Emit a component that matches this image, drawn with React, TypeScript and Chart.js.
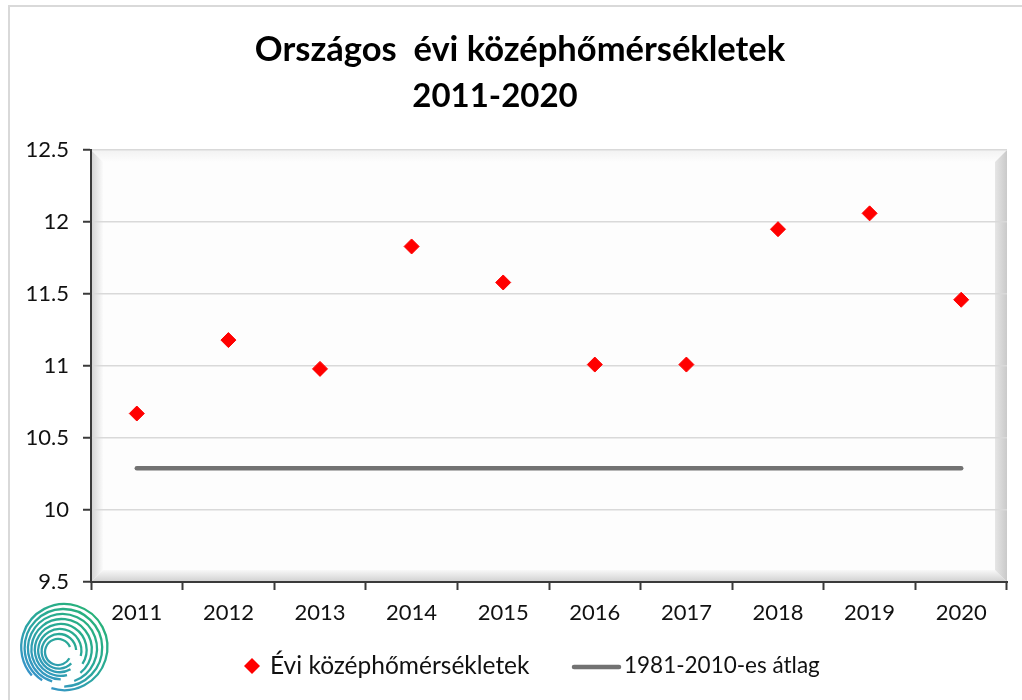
import React, { useEffect, useRef } from 'react';
import { Chart, registerables } from 'chart.js';

Chart.register(...registerables);

// ---- data ----
const years = ['2011', '2012', '2013', '2014', '2015', '2016', '2017', '2018', '2019', '2020'];
const annualMeans = [10.67, 11.18, 10.98, 11.83, 11.58, 11.01, 11.01, 11.95, 12.06, 11.46];
const baselineMeans = [10.29, 10.29, 10.29, 10.29, 10.29, 10.29, 10.29, 10.29, 10.29, 10.29];
const yTickValues = [9.5, 10, 10.5, 11, 11.5, 12, 12.5];
const titleLines = ['Országos  évi középhőmérsékletek', '2011-2020'];
const seriesLabels = ['Évi középhőmérsékletek', '1981-2010-es átlag'];

const FONT = 'Lato, "Open Sans", sans-serif';
const POINT_COLOR = '#ff0000';
const LINE_COLOR = '#727272';
const AXIS_COLOR = '#3a3a3a';
const TEXT_COLOR = '#111111';

function drawLogo(ctx: CanvasRenderingContext2D) {
  const grad = ctx.createLinearGradient(105, 600, 25, 690);
  grad.addColorStop(0, '#27b56c');
  grad.addColorStop(0.5, '#2aa89a');
  grad.addColorStop(1, '#3b8ed8');
  ctx.save();
  ctx.strokeStyle = grad;
  ctx.lineWidth = 2.3;
  ctx.lineCap = 'butt';
  for (let i = 0; i < 8; i++) {
    const r = 13 + i * 4.3;
    const cx = 58 + i * 0.9;
    const cy = 652 - i * 0.7;
    const gapCenter = 0.05 + i * 0.3;
    const gap = 0.9 - i * 0.05;
    ctx.beginPath();
    ctx.arc(cx, cy, r, gapCenter - gap / 2, gapCenter + gap / 2, true);
    ctx.stroke();
  }
  ctx.restore();
}

const decorPlugin = {
  id: 'decor',
  beforeDraw(chart: any) {
    const ctx: CanvasRenderingContext2D = chart.ctx;
    const { left: L, right: R, top: T, bottom: B } = chart.chartArea;
    const w = 12;
    ctx.save();
    // outer frame
    ctx.fillStyle = '#ffffff';
    ctx.fillRect(0, 0, chart.width, chart.height);
    ctx.strokeStyle = '#d9d9d9';
    ctx.lineWidth = 2;
    ctx.strokeRect(9, 6, 1200, 900);

    // plot wall
    ctx.fillStyle = '#fdfdfd';
    ctx.fillRect(L, T, R - L, B - T);
    // top bevel
    let g = ctx.createLinearGradient(0, T, 0, T + w);
    g.addColorStop(0, '#f2f2f2');
    g.addColorStop(1, '#fdfdfd');
    ctx.fillStyle = g;
    ctx.beginPath();
    ctx.moveTo(L, T); ctx.lineTo(R, T); ctx.lineTo(R - w, T + w); ctx.lineTo(L + w, T + w); ctx.closePath();
    ctx.fill();
    // left bevel
    g = ctx.createLinearGradient(L, 0, L + w, 0);
    g.addColorStop(0, '#d2d2d2');
    g.addColorStop(1, '#fbfbfb');
    ctx.fillStyle = g;
    ctx.beginPath();
    ctx.moveTo(L, T); ctx.lineTo(L + w, T + w); ctx.lineTo(L + w, B - w); ctx.lineTo(L, B); ctx.closePath();
    ctx.fill();
    // bottom bevel
    g = ctx.createLinearGradient(0, B - w, 0, B);
    g.addColorStop(0, '#f8f8f8');
    g.addColorStop(1, '#d0d0d0');
    ctx.fillStyle = g;
    ctx.beginPath();
    ctx.moveTo(L, B); ctx.lineTo(L + w, B - w); ctx.lineTo(R - w, B - w); ctx.lineTo(R, B); ctx.closePath();
    ctx.fill();
    // right bevel
    g = ctx.createLinearGradient(R - w, 0, R, 0);
    g.addColorStop(0, '#e6e6e6');
    g.addColorStop(1, '#c9c9c9');
    ctx.fillStyle = g;
    ctx.beginPath();
    ctx.moveTo(R, T); ctx.lineTo(R - w, T + w); ctx.lineTo(R - w, B - w); ctx.lineTo(R, B); ctx.closePath();
    ctx.fill();
    ctx.restore();
  },
  afterDraw(chart: any) {
    const ctx: CanvasRenderingContext2D = chart.ctx;
    ctx.save();
    // title
    ctx.fillStyle = '#000000';
    ctx.textAlign = 'center';
    ctx.textBaseline = 'alphabetic';
    ctx.font = `bold 34.5px ${FONT}`;
    ctx.fillText(titleLines[0], 520, 61);
    ctx.font = `bold 33px ${FONT}`;
    ctx.fillText(titleLines[1], 495, 107);

    // legend
    const ly = 666;
    const ds0 = chart.data.datasets[0];
    const ds1 = chart.data.datasets[1];
    ctx.fillStyle = ds0.pointBackgroundColor;
    ctx.beginPath();
    ctx.moveTo(252, ly - 8); ctx.lineTo(260, ly); ctx.lineTo(252, ly + 8); ctx.lineTo(244, ly); ctx.closePath();
    ctx.fill();
    ctx.fillStyle = TEXT_COLOR;
    ctx.font = `24.5px ${FONT}`;
    ctx.textAlign = 'left';
    ctx.textBaseline = 'middle';
    ctx.fillText(ds0.label, 270, ly);
    ctx.strokeStyle = ds1.borderColor;
    ctx.lineWidth = ds1.borderWidth;
    ctx.lineCap = 'round';
    ctx.beginPath();
    ctx.moveTo(574, ly + 1); ctx.lineTo(619, ly + 1);
    ctx.stroke();
    ctx.font = `22.5px ${FONT}`;
    ctx.fillText(ds1.label, 624, ly);

    drawLogo(ctx);
    ctx.restore();
  },
};

export default function App() {
  const canvasRef = useRef<HTMLCanvasElement | null>(null);

  useEffect(() => {
    if (!canvasRef.current) return;
    const chart = new Chart(canvasRef.current, {
      type: 'line',
      data: {
        labels: years,
        datasets: [
          {
            label: seriesLabels[0],
            data: annualMeans,
            showLine: false,
            pointStyle: 'rectRot',
            pointRadius: 7.5,
            pointBorderWidth: 1,
            pointBackgroundColor: POINT_COLOR,
            pointBorderColor: POINT_COLOR,
            borderColor: POINT_COLOR,
            backgroundColor: POINT_COLOR,
          },
          {
            label: seriesLabels[1],
            data: baselineMeans,
            borderColor: LINE_COLOR,
            backgroundColor: LINE_COLOR,
            borderWidth: 4.5,
            borderCapStyle: 'round',
            pointRadius: 0,
            fill: false,
          },
        ],
      },
      options: {
        responsive: false,
        animation: false,
        devicePixelRatio: 1,
        layout: { padding: { top: 150, right: 15, bottom: 0, left: 0 } },
        plugins: {
          legend: { display: false },
          title: { display: false },
          tooltip: { enabled: false },
        },
        scales: {
          x: {
            offset: true,
            grid: {
              offset: true,
              drawOnChartArea: false,
              drawTicks: true,
              tickLength: 8,
              tickColor: AXIS_COLOR,
              tickWidth: 2,
            },
            border: { color: AXIS_COLOR, width: 2 },
            ticks: {
              font: { family: FONT, size: 22 },
              color: TEXT_COLOR,
              padding: 10,
              maxRotation: 0,
              autoSkip: false,
            },
            afterFit: (s: any) => { s.height = 118; },
          },
          y: {
            min: 9.5,
            max: 12.5,
            afterBuildTicks: (s: any) => { s.ticks = yTickValues.map((v) => ({ value: v })); },
            grid: {
              color: '#d9d9d9',
              lineWidth: 1.5,
              drawTicks: true,
              tickLength: 8,
              tickColor: AXIS_COLOR,
              tickWidth: 2,
            },
            border: { color: AXIS_COLOR, width: 2 },
            ticks: {
              font: { family: FONT, size: 22 },
              color: TEXT_COLOR,
              padding: 14,
              callback: (v: any) => String(v),
            },
            afterFit: (s: any) => { s.width = 91; },
          },
        },
      },
      plugins: [decorPlugin],
    } as any);
    return () => chart.destroy();
  }, []);

  return (
    <div style={{ position: 'absolute', left: 0, top: 0, width: 1022, height: 700, background: '#fff' }}>
      <canvas ref={canvasRef} width={1022} height={700} style={{ width: 1022, height: 700, display: 'block' }} />
    </div>
  );
}
